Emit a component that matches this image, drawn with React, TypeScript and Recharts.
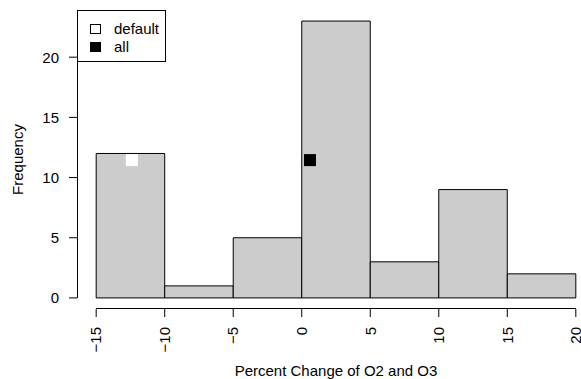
import React from 'react';
import {
  ComposedChart,
  XAxis,
  YAxis,
  Scatter,
  ReferenceArea,
} from 'recharts';

const binEdges = [-15, -10, -5, 0, 5, 10, 15, 20];
const binCounts = [12, 1, 5, 23, 3, 9, 2];
const xTicks = [-15, -10, -5, 0, 5, 10, 15, 20];
const yTicks = [0, 5, 10, 15, 20];
const markerNames = ['default', 'all'];
const markerX = [-12.4, 0.6];
const markerY = [11.45, 11.45];
const markerColors = ['#ffffff', '#000000'];

const X_DOMAIN = [-16.4, 21.4];
const Y_DOMAIN = [-0.92, 23.92];

const FONT = '"Liberation Sans", Arial, Helvetica, sans-serif';

const markers = markerNames.map((name, i) => ({
  name,
  x: markerX[i],
  y: markerY[i],
  color: markerColors[i],
}));

const XTick = (props: any) => {
  const { x, y, payload } = props;
  const txt = String(payload.value).replace('-', '\u2212');
  return (
    <text
      x={x}
      y={y}
      transform={`rotate(-90, ${x}, ${y})`}
      textAnchor="end"
      dy="0.35em"
      fontSize={15}
      fill="#000"
      fontFamily={FONT}
    >
      {txt}
    </text>
  );
};

// x label + R-style axis line from first to last tick
const XLabel = (p: any) => {
  const vb = p.viewBox;
  const sx = (v: number) => vb.x + ((v - X_DOMAIN[0]) / (X_DOMAIN[1] - X_DOMAIN[0])) * vb.width;
  const ly = Math.round(vb.y) - 0.5;
  return (
    <g>
      <line
        x1={sx(xTicks[0])}
        x2={sx(xTicks[xTicks.length - 1])}
        y1={ly}
        y2={ly}
        stroke="#000"
        strokeWidth={1}
        shapeRendering="crispEdges"
      />
      <text x={vb.x + vb.width / 2} y={376} textAnchor="middle" fontSize={15} fill="#000" fontFamily={FONT}>
        Percent Change of O2 and O3
      </text>
    </g>
  );
};

// y label + R-style axis line from 0 to 20
const YLabel = (p: any) => {
  const vb = p.viewBox;
  const sy = (v: number) => vb.y + ((Y_DOMAIN[1] - v) / (Y_DOMAIN[1] - Y_DOMAIN[0])) * vb.height;
  const lx = Math.round(vb.x + vb.width) + 0.5;
  const cy = vb.y + vb.height / 2;
  return (
    <g>
      <line
        x1={lx}
        x2={lx}
        y1={sy(yTicks[0])}
        y2={sy(yTicks[yTicks.length - 1])}
        stroke="#000"
        strokeWidth={1}
        shapeRendering="crispEdges"
      />
      <text
        x={18}
        y={cy}
        transform={`rotate(-90, 18, ${cy})`}
        textAnchor="middle"
        dy="0.35em"
        fontSize={15}
        fill="#000"
        fontFamily={FONT}
      >
        Frequency
      </text>
    </g>
  );
};

const SquareShape = (props: any) => {
  const { cx, cy, payload } = props;
  const s = 12;
  return <rect x={cx - s / 2} y={cy - s / 2} width={s} height={s} fill={payload.color} />;
};

export default function App() {
  return (
    <div
      style={{
        position: 'absolute',
        left: 0,
        top: 0,
        width: 581,
        height: 379,
        overflow: 'hidden',
        background: '#fff',
        fontFamily: FONT,
      }}
    >
      <ComposedChart width={595} height={379} margin={{ top: 10, right: 0, bottom: 0, left: 0 }}>
        <XAxis
          type="number"
          dataKey="x"
          domain={X_DOMAIN}
          ticks={xTicks}
          interval={0}
          axisLine={false}
          tickLine={{ stroke: '#000' }}
          tickSize={8}
          tickMargin={10}
          height={70}
          tick={<XTick />}
          label={{ content: XLabel }}
        />
        <YAxis
          type="number"
          dataKey="y"
          domain={Y_DOMAIN}
          ticks={yTicks}
          interval={0}
          axisLine={false}
          tickLine={{ stroke: '#000' }}
          tickSize={8}
          tickMargin={10}
          width={77}
          tick={{ fill: '#000', fontSize: 15, fontFamily: FONT }}
          label={{ content: YLabel }}
        />
        {binCounts.map((c, i) => (
          <ReferenceArea
            key={`bin-${i}`}
            x1={binEdges[i]}
            x2={binEdges[i + 1]}
            y1={0}
            y2={c}
            fill="#cccccc"
            fillOpacity={1}
            stroke="#000"
            strokeWidth={1}
          />
        ))}
        <Scatter data={markers} dataKey="y" shape={<SquareShape />} isAnimationActive={false} />
      </ComposedChart>
      <div
        style={{
          position: 'absolute',
          left: 77,
          top: 10,
          width: 89,
          height: 52,
          border: '1px solid #000',
          background: '#fff',
          boxSizing: 'border-box',
          fontSize: 15,
          color: '#000',
        }}
      >
        {markers.map((m, i) => (
          <div
            key={m.name}
            style={{ position: 'absolute', left: 12, top: 10 + i * 18, height: 16, display: 'flex', alignItems: 'center' }}
          >
            <span
              style={{
                display: 'inline-block',
                width: 11,
                height: 10,
                boxSizing: 'border-box',
                background: m.color,
                border: '1px solid #000',
                marginRight: 13,
              }}
            />
            <span style={{ lineHeight: '16px' }}>{m.name}</span>
          </div>
        ))}
      </div>
    </div>
  );
}
